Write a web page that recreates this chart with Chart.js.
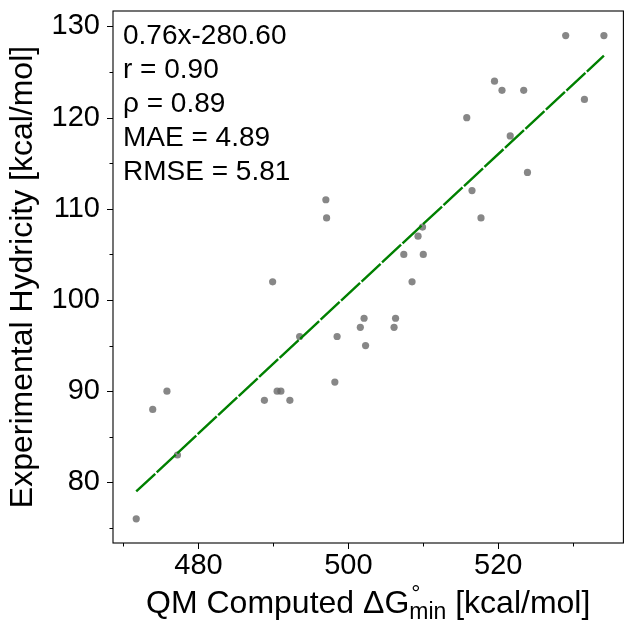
<!DOCTYPE html>
<html>
<head>
<meta charset="utf-8">
<script src="https://cdn.jsdelivr.net/npm/chart.js@4/dist/chart.umd.min.js"></script>
<style>
  html, body { margin: 0; padding: 0; background: #fff; }
  #wrap { width: 627px; height: 621px; position: relative; }
</style>
</head>
<body>
<div id="wrap"><canvas id="hydricityChart"></canvas></div>
<script>
// Data
const computedDG = [529.0, 534.1, 519.5, 520.5, 523.4, 531.5, 515.8, 521.6, 523.9, 516.5,
    497.0, 497.1, 517.7, 509.9, 509.3, 507.4, 510.0, 489.9, 508.5, 502.1,
    506.3, 501.6, 506.1, 493.5, 498.5, 502.3, 498.2, 475.8, 473.9, 488.8,
    490.5, 491.0, 492.2, 477.2, 471.7];
const expHydricity = [129, 129, 124, 123, 123, 122, 120, 118, 114, 112,
    111, 109, 109, 108, 107, 105, 105, 102, 102, 98,
    98, 97, 97, 96, 96, 95, 91, 90, 88, 89,
    90, 90, 89, 83, 76];

// regression line end points
const fitX = [471.7, 534.1];
const fitY = [79.0, 126.8];

const xTicks = [480, 500, 520];
const xMinorTicks = [470, 490, 510, 530];
const yTicks = [80, 90, 100, 110, 120, 130];
const yMinorTicks = [75, 85, 95, 105, 115, 125];

const statLines = ['0.76x-280.60', 'r = 0.90', 'ρ = 0.89', 'MAE = 4.89', 'RMSE = 5.81'];
const yTitle = 'Experimental Hydricity [kcal/mol]';

const FONT = '"Liberation Sans", Arial, Helvetica, sans-serif';

// frame, minor/major ticks, stats text and axis titles
const decorPlugin = {
    id: 'decor',
    afterDraw(chart) {
        const ctx = chart.ctx;
        const area = chart.chartArea;
        const xs = chart.scales.x;
        const ys = chart.scales.y;
        ctx.save();
        ctx.strokeStyle = '#000';
        ctx.lineWidth = 1.1;
        ctx.strokeRect(area.left, area.top, area.right - area.left, area.bottom - area.top);

        // ticks
        ctx.lineWidth = 1;
        function xTick(v, len) {
            const px = Math.round(xs.getPixelForValue(v)) + 0.5;
            ctx.beginPath();
            ctx.moveTo(px, area.bottom);
            ctx.lineTo(px, area.bottom + len);
            ctx.stroke();
        }
        function yTick(v, len) {
            const py = Math.round(ys.getPixelForValue(v)) + 0.5;
            ctx.beginPath();
            ctx.moveTo(area.left, py);
            ctx.lineTo(area.left - len, py);
            ctx.stroke();
        }
        xTicks.forEach(v => xTick(v, 6));
        xMinorTicks.forEach(v => xTick(v, 3.5));
        yTicks.forEach(v => yTick(v, 6));
        yMinorTicks.forEach(v => yTick(v, 3.5));

        // stats box text
        ctx.fillStyle = '#000';
        ctx.font = '28px ' + FONT;
        ctx.textAlign = 'left';
        ctx.textBaseline = 'alphabetic';
        statLines.forEach((line, i) => {
            ctx.fillText(line, area.left + 10, 44 + i * 34);
        });

        // y title
        ctx.save();
        ctx.font = '32px ' + FONT;
        ctx.textAlign = 'center';
        ctx.translate(32, (area.top + area.bottom) / 2);
        ctx.rotate(-Math.PI / 2);
        ctx.fillText(yTitle, 0, 0);
        ctx.restore();

        // x title with super/subscript
        const big = '32px ' + FONT;
        const small = '23px ' + FONT;
        const part1 = 'QM Computed ΔG';
        const part2 = ' [kcal/mol]';
        ctx.font = big;
        const w1 = ctx.measureText(part1).width;
        const w3 = ctx.measureText(part2).width;
        ctx.font = small;
        const wSub = ctx.measureText('min').width;
        const wSup = ctx.measureText('°').width;
        const total = w1 + Math.max(wSub, wSup) + w3;
        let x = (area.left + area.right) / 2 - total / 2;
        const base = 613;
        ctx.font = big;
        ctx.fillText(part1, x, base);
        x += w1;
        ctx.font = small;
        ctx.fillText('°', x + 2, base - 12);
        ctx.fillText('min', x, base + 6);
        x += Math.max(wSub, wSup);
        ctx.font = big;
        ctx.fillText(part2, x, base);
        ctx.restore();
    }
};

const points = computedDG.map((x, i) => ({ x: x, y: expHydricity[i] }));
const fitLine = fitX.map((x, i) => ({ x: x, y: fitY[i] }));

new Chart(document.getElementById('hydricityChart'), {
    type: 'scatter',
    data: {
        datasets: [{
            type: 'line',
            label: 'fit',
            data: fitLine,
            borderColor: '#008000',
            borderWidth: 2.4,
            borderDash: [26, 2],
            pointRadius: 0,
            fill: false
        }, {
            label: 'data',
            data: points,
            backgroundColor: 'rgba(105,105,105,0.8)',
            borderWidth: 0,
            pointRadius: 3.6,
            pointHoverRadius: 3.6
        }]
    },
    options: {
        responsive: true,
        maintainAspectRatio: false,
        animation: false,
        events: [],
        layout: { padding: { top: 11, right: 1, left: 0, bottom: 0 } },
        plugins: {
            legend: { display: false },
            tooltip: { enabled: false }
        },
        scales: {
            x: {
                type: 'linear',
                min: 468.6,
                max: 536.7,
                grid: { display: false, drawTicks: false },
                border: { display: false },
                ticks: {
                    color: '#000',
                    padding: 6,
                    font: { family: FONT, size: 29 }
                },
                afterBuildTicks: scale => { scale.ticks = xTicks.map(v => ({ value: v })); },
                afterFit: scale => {
                    scale.height = 78;
                    scale.paddingLeft = 0;
                    scale.paddingRight = 0;
                }
            },
            y: {
                type: 'linear',
                min: 73.35,
                max: 131.7,
                grid: { display: false, drawTicks: false },
                border: { display: false },
                ticks: {
                    color: '#000',
                    padding: 13,
                    font: { family: FONT, size: 29 }
                },
                afterBuildTicks: scale => { scale.ticks = yTicks.map(v => ({ value: v })); },
                afterFit: scale => {
                    scale.width = 113;
                    scale.paddingTop = 0;
                    scale.paddingBottom = 0;
                }
            }
        }
    },
    plugins: [decorPlugin]
});
</script>
</body>
</html>
